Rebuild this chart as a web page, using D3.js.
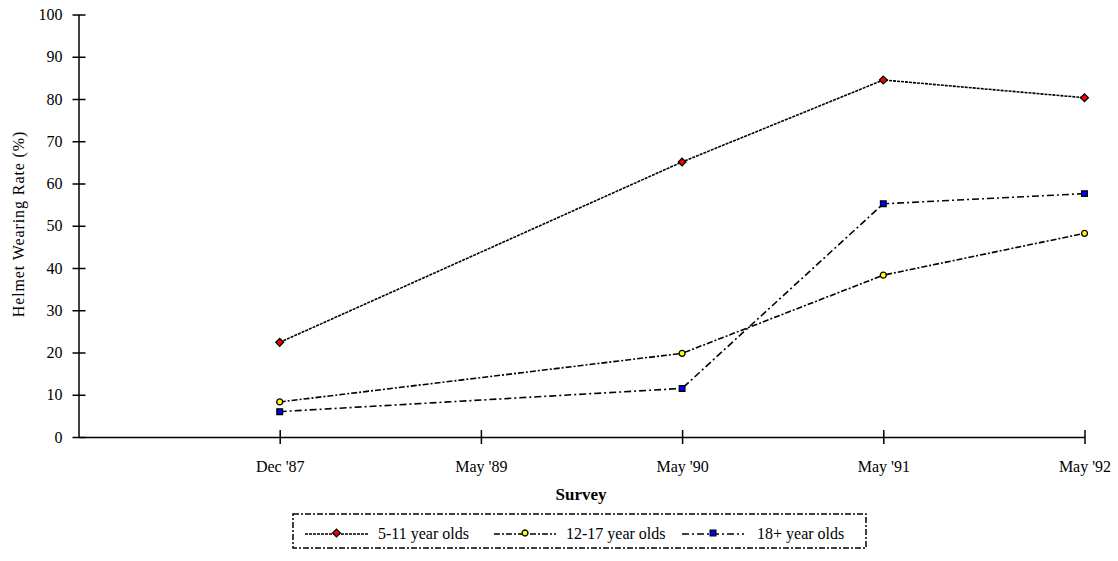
<!DOCTYPE html>
<html>
<head>
<meta charset="utf-8">
<script src="https://cdn.jsdelivr.net/npm/d3@7"></script>
<style>
  html, body { margin: 0; padding: 0; background: #fff; }
  svg { display: block; font-family: "Liberation Serif", "Times New Roman", serif; }
</style>
</head>
<body>
<svg id="chart" width="1118" height="561"></svg>
<script>
// Survey rounds (May '89 has no observations)
const surveys = ["Dec '87", "May '89", "May '90", "May '91", "May '92"];
const yTicks = [0, 10, 20, 30, 40, 50, 60, 70, 80, 90, 100];

// Helmet wearing rate (%) by age group
const ages5to11 = [22.4, null, 65.1, 84.5, 80.3];
const ages12to17 = [8.3, null, 19.8, 38.3, 48.2];
const ages18plus = [6.0, null, 11.5, 55.2, 57.6];

const seriesNames = ["5-11 year olds", "12-17 year olds", "18+ year olds"];
const seriesValues = [ages5to11, ages12to17, ages18plus];
const seriesFill = ["#ff0000", "#ffff00", "#0000ff"];
const seriesDash = ["3,1", "6,2,2,2", "7,3,2,3"];
const seriesSymbol = [d3.symbolSquare, d3.symbolCircle, d3.symbolSquare];
const seriesSymbolSize = [30, 28, 32];
const seriesSymbolRotate = [45, 0, 0];

const fontSize = 16;
const svg = d3.select("#chart");
const plotLeft = 78.5, plotRight = 1084.5, plotTop = 14.5, plotBottom = 437;

// the first slot of the x scale is the axis origin, left empty
const x = d3.scalePoint().domain([""].concat(surveys)).range([plotLeft, plotRight]);
const y = d3.scaleLinear().domain([0, 100]).range([plotBottom, plotTop]);

// Y axis
const yAxis = svg.append("g").attr("transform", `translate(${plotLeft},0)`)
  .call(d3.axisLeft(y).tickValues(yTicks).tickSize(6).tickPadding(10).tickSizeOuter(0));
yAxis.select(".domain").attr("stroke", "#000").attr("stroke-width", 1.5);
yAxis.selectAll(".tick line").attr("x2", 7).attr("x1", -6).attr("stroke-width", 1.5);
yAxis.selectAll(".tick text").attr("x", -16).attr("font-size", fontSize).attr("fill", "#000")
  .attr("font-family", "Liberation Serif");

// X axis
const xAxis = svg.append("g").attr("transform", `translate(0,${plotBottom})`)
  .call(d3.axisBottom(x).tickValues(surveys).tickSizeOuter(0));
xAxis.select(".domain").attr("stroke", "#000").attr("stroke-width", 1.5);
xAxis.selectAll(".tick line").attr("y1", -7).attr("y2", 7).attr("stroke-width", 1.5);
xAxis.selectAll(".tick text").attr("y", 24).attr("font-size", fontSize).attr("fill", "#000")
  .attr("font-family", "Liberation Serif");

// Axis titles
svg.append("text")
  .attr("transform", `translate(24,224) rotate(-90)`)
  .attr("text-anchor", "middle").attr("font-size", fontSize)
  .attr("letter-spacing", 0.9)
  .text("Helmet Wearing Rate (%)");
svg.append("text")
  .attr("x", 581).attr("y", 500).attr("text-anchor", "middle")
  .attr("font-size", 17).attr("font-weight", "bold")
  .text("Survey");

// Series lines and markers
const line = d3.line()
  .defined(d => d.v != null)
  .x(d => x(d.s)).y(d => y(d.v));

function marker(sel, i) {
  sel.attr("d", d3.symbol().type(seriesSymbol[i]).size(seriesSymbolSize[i]))
    .attr("fill", seriesFill[i]).attr("stroke", "#000").attr("stroke-width", 1.3);
}

seriesValues.forEach((vals, i) => {
  const pts = vals.map((v, j) => ({ s: surveys[j], v }));
  const defined = pts.filter(d => d.v != null);
  svg.append("path")
    .datum(defined)
    .attr("d", line)
    .attr("fill", "none").attr("stroke", "#000").attr("stroke-width", 1.6)
    .attr("stroke-dasharray", seriesDash[i]);
  svg.append("g").selectAll("path").data(defined).join("path")
    .attr("transform", d => `translate(${x(d.s)},${y(d.v)}) rotate(${seriesSymbolRotate[i]})`)
    .call(marker, i);
});

// Legend
const legend = svg.append("g");
legend.append("rect")
  .attr("x", 293).attr("y", 514).attr("width", 573).attr("height", 34)
  .attr("fill", "none").attr("stroke", "#000").attr("stroke-width", 1.5)
  .attr("stroke-dasharray", "6,2,2,2");
const legendItems = [
  { x0: 305, x1: 368, tx: 378 },
  { x0: 494, x1: 556, tx: 566 },
  { x0: 682, x1: 744, tx: 757 }
];
legendItems.forEach((it, i) => {
  const ly = 534;
  legend.append("line")
    .attr("x1", it.x0).attr("x2", it.x1).attr("y1", ly).attr("y2", ly)
    .attr("stroke", "#000").attr("stroke-width", 1.6)
    .attr("stroke-dasharray", seriesDash[i]);
  legend.append("path")
    .attr("transform", `translate(${(it.x0 + it.x1) / 2},${ly - 1}) rotate(${seriesSymbolRotate[i]})`)
    .call(marker, i);
  legend.append("text")
    .attr("x", it.tx).attr("y", ly + 5).attr("font-size", fontSize)
    .text(seriesNames[i]);
});
</script>
</body>
</html>
